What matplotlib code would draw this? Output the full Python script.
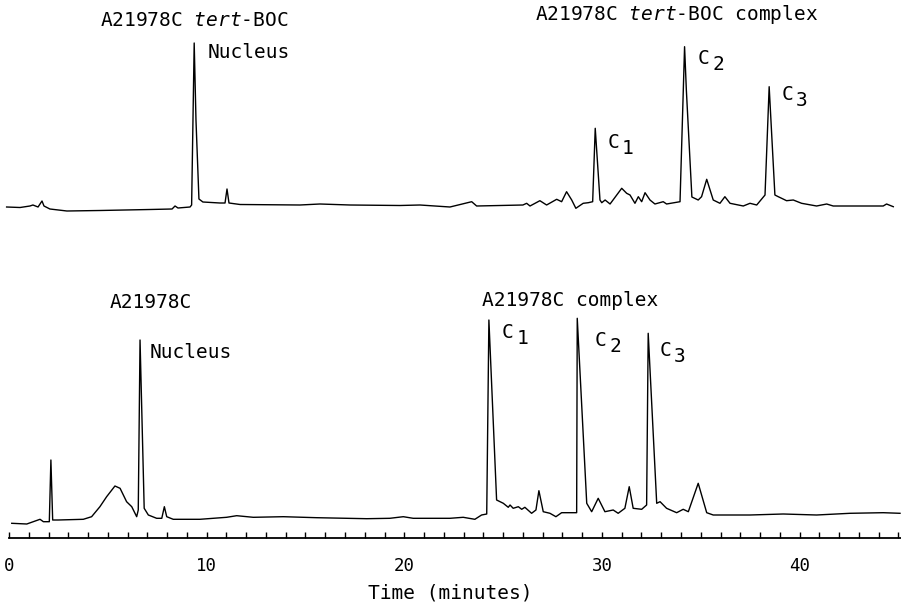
"""
HPLC traces of A21978C tert-BOC complex (top) and A21978C complex (bottom)
"""

import matplotlib
matplotlib.use('Agg')
from matplotlib import pyplot as plt

plt.rcParams['font.family'] = ['DejaVu Sans Mono']
plt.rcParams['mathtext.fontset'] = 'custom'
plt.rcParams['mathtext.rm'] = 'DejaVu Sans Mono'
plt.rcParams['mathtext.it'] = 'DejaVu Sans Mono:italic'

# top trace: A21978C tert-BOC (retention time in minutes, detector response)
top_time = [-0.12, 0.56, 1.06, 1.21, 1.47, 1.67, 1.77, 2.07, 2.93, 4.60, 7.13,
            8.25, 8.40, 8.55, 9.16, 9.24, 9.37, 9.46, 9.61, 9.81, 10.67, 10.93,
            11.03, 11.13, 11.69, 14.72, 15.73, 17.25, 19.78, 20.79, 22.31,
            23.41, 23.66, 26.00, 26.19, 26.36, 26.86, 27.20, 27.71, 27.96,
            28.21, 28.47, 28.68, 29.05, 29.31, 29.53, 29.66, 29.90, 29.99,
            30.16, 30.41, 31.00, 31.25, 31.42, 31.67, 31.84, 32.01, 32.18,
            32.43, 32.68, 33.10, 33.27, 33.95, 34.18, 34.27, 34.55, 34.87,
            35.04, 35.30, 35.63, 35.97, 36.22, 36.48, 37.15, 37.49, 37.83,
            38.25, 38.46, 38.75, 38.92, 39.09, 39.34, 39.68, 40.10, 40.86,
            41.37, 41.70, 44.23, 44.40, 44.74]
top_resp = [0, -0.5, 1, 2, 0, 6, 1, -2, -4, -3.5, -2.5,
            -2, 1, -1, 0, 2, 164, 87, 8, 5, 4, 4,
            18, 4, 2.5, 2, 3, 2, 1.5, 2, 0,
            5.3, 1, 2, 3.7, 1, 6.3, 2, 7.7, 5.3,
            15.3, 7, -1.3, 3.7, 4.3, 5.3, 78.7, 7, 4.3,
            7, 3, 18.7, 13.7, 12, 3.7, 10.3, 5.3, 14.3,
            7, 3, 5.3, 3, 5.3, 160.3, 117, 10, 7,
            10.3, 27.7, 7, 3.7, 10.3, 3.7, 1, 3.7, 2,
            12, 120.3, 12, 10.3, 8.7, 6.3, 7, 3.7, 1,
            3, 1, 1, 3, 0.3]

# bottom trace: A21978C
bot_time = [0.14, 0.90, 1.57, 1.74, 2.04, 2.12, 2.21, 2.49, 3.76, 4.18, 4.60,
            4.94, 5.36, 5.62, 5.95, 6.21, 6.46, 6.54, 6.63, 6.84, 7.05, 7.47,
            7.73, 7.86, 7.98, 8.31, 9.66, 11.01, 11.52, 12.36, 13.88, 15.57,
            18.10, 19.27, 19.95, 20.45, 22.31, 22.98, 23.57, 23.91, 24.17,
            24.28, 24.67, 25.01, 25.26, 25.35, 25.51, 25.77, 25.94, 26.10,
            26.44, 26.66, 26.81, 27.03, 27.37, 27.67, 27.96, 28.72, 28.75,
            29.23, 29.48, 29.81, 30.15, 30.57, 30.82, 31.16, 31.38, 31.58,
            32.01, 32.26, 32.34, 32.77, 32.94, 33.27, 33.78, 34.11, 34.37,
            34.87, 35.30, 35.63, 37.49, 39.17, 40.86, 42.55, 44.23, 45.08]
bot_resp = [-3.3, -4, 0.7, -1.7, -1.7, 60, 0, 0, 0.7, 3.3, 13.3,
            23.3, 34, 31.7, 18.3, 13.3, 3.3, 10, 180, 11.7, 5, 1.7,
            1.7, 13.3, 3.3, 0.7, 0.7, 2.7, 4.3, 2.7, 3.3, 2.3,
            1.3, 1.7, 3.3, 1.7, 1.7, 2.7, 0.7, 5, 6,
            200, 20, 16.7, 12.7, 15, 11.7, 13.3, 10.7, 12.7,
            6.7, 10, 29.3, 8.3, 6.7, 3.3, 7.3, 7.3, 201.7,
            16.7, 8.3, 21.7, 8.3, 10, 6.7, 11.7, 33.3, 11.7,
            10.7, 15, 186.7, 16.7, 18.3, 11.7, 7.3, 10.7, 8.3,
            36.7, 7.3, 5, 5, 6, 5, 6.7, 7.3, 6.7]

tick_major = [0, 10, 20, 30, 40]

# baselines of the two traces (stacked)
top_base = 331
bot_base = 18

fig = plt.figure(figsize=(9.01, 6.07), dpi=100)
ax = fig.add_axes([0, 69 / 607, 1, 538 / 607])
ax.plot(top_time, [r + top_base for r in top_resp], c='black', lw=1.0)
ax.plot(bot_time, [r + bot_base for r in bot_resp], c='black', lw=1.0)

ax.set_xlim(-0.455, 45.13)
ax.set_ylim(0, 538)
for s in ['top', 'left', 'right']:
    ax.spines[s].set_visible(False)
ax.spines['bottom'].set_bounds(0, 45.13)
ax.spines['bottom'].set_linewidth(1.3)
ax.set_yticks([])
ax.set_xticks(tick_major)
ax.set_xticks(range(0, 46), minor=True)
ax.tick_params(axis='x', which='both', direction='in', length=4, width=1.0,
               labelsize=12.5, pad=14)
ax.set_xlabel('Time (minutes)', fontsize=14, labelpad=6)

# labels
fs = 14
ax.text(4.60, 518, r'A21978C $\mathit{tert}$-BOC', fontsize=fs, va='center')
ax.text(10.07, 485, 'Nucleus', fontsize=fs, va='center')
ax.text(26.61, 523, r'A21978C $\mathit{tert}$-BOC complex', fontsize=fs,
        va='center')
ax.text(5.11, 235, 'A21978C', fontsize=fs, va='center')
ax.text(7.13, 185, 'Nucleus', fontsize=fs, va='center')
ax.text(23.93, 238, 'A21978C complex', fontsize=fs, va='center')

# peak names with subscripts
peaks = [(30.30, 395, '1'), (34.86, 479, '2'), (39.11, 443, '3'),
         (24.94, 206, '1'), (29.65, 198, '2'), (32.93, 188, '3')]
for px, py, n in peaks:
    ax.text(px, py, 'C', fontsize=fs, va='center')
    ax.text(px + 0.72, py - 6, n, fontsize=fs, va='center')

plt.savefig('out.png', dpi=100)
